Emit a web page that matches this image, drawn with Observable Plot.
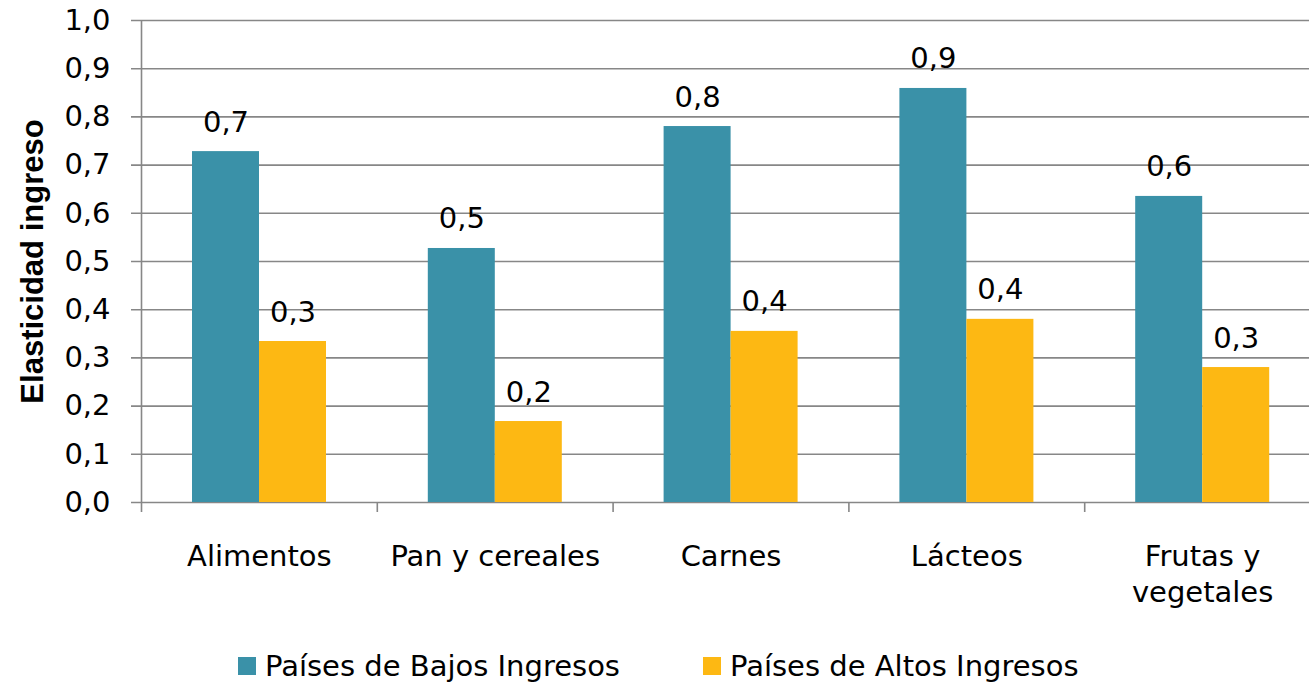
<!DOCTYPE html>
<html>
<head>
<meta charset="utf-8">
<script src="https://cdn.jsdelivr.net/npm/d3@7"></script>
<script src="https://cdn.jsdelivr.net/npm/@observablehq/plot@0.6"></script>
<style>
  html, body { margin: 0; padding: 0; background: #fff; }
  body { width: 1309px; height: 683px; overflow: hidden; font-family: "DejaVu Sans", sans-serif; }
  #legend { position: relative; height: 53px; display: flex; align-items: center; padding-top: 19px; box-sizing: border-box; padding-left: 238px; font-size: 29px; color: #000; white-space: nowrap; }
  #legend .item { display: flex; align-items: center; }
  #legend .sw { width: 18px; height: 18px; margin-right: 9px; }
</style>
</head>
<body>
<div id="chart"></div>
<div id="legend"></div>
<script>
const categories = ["Alimentos", "Pan y cereales", "Carnes", "Lácteos", "Frutas y\nvegetales"];
const series = ["Países de Bajos Ingresos", "Países de Altos Ingresos"];
const bajos = [0.728, 0.527, 0.780, 0.859, 0.635];
const altos = [0.334, 0.168, 0.355, 0.380, 0.280];
const colors = ["#3a91a8", "#fdb813"];
const yTicks = [0, 0.1, 0.2, 0.3, 0.4, 0.5, 0.6, 0.7, 0.8, 0.9, 1.0];
const yTitle = "Elasticidad ingreso";

const rows = categories.flatMap((c, i) => [
  {cat: c, serie: series[0], v: bajos[i]},
  {cat: c, serie: series[1], v: altos[i]}
]);
const comma1 = (v) => (Math.round(v * 10) / 10).toFixed(1).replace(".", ",");
const grid = "#878787";

const chart = Plot.plot({
  width: 1309,
  height: 630,
  marginTop: 20,
  marginBottom: 128,
  marginLeft: 141,
  marginRight: 0,
  style: {fontFamily: "DejaVu Sans", fontSize: "29px", color: "#000", background: "#fff"},
  x: {domain: categories, range: [141, 1320], padding: 0, round: false, label: null},
  y: {domain: [0, 1], label: null},
  color: {domain: series, range: colors},
  marks: [
    Plot.ruleY(yTicks, {y: d => d, stroke: grid, strokeWidth: 1.6, insetLeft: -10, strokeOpacity: 1}),
    Plot.barY(rows.filter(d => d.serie === series[0]), {x: "cat", y: "v", fill: "serie", insetLeft: 51, insetRight: 117.8}),
    Plot.barY(rows.filter(d => d.serie === series[1]), {x: "cat", y: "v", fill: "serie", insetLeft: 118, insetRight: 50.8}),
    Plot.text(rows.filter(d => d.serie === series[0]), {x: "cat", y: "v", text: d => comma1(d.v), dx: -33.4, dy: -20, lineAnchor: "bottom", fontSize: 29, fill: "#000"}),
    Plot.text(rows.filter(d => d.serie === series[1]), {x: "cat", y: "v", text: d => comma1(d.v), dx: 33.6, dy: -20, lineAnchor: "bottom", fontSize: 29, fill: "#000"}),
    // left axis line
    Plot.ruleX([categories[0]], {x: d => d, dx: -117.9, y1: 1, y2: 0, insetBottom: -10, stroke: grid, strokeWidth: 1.6}),
    // boundary ticks
    Plot.ruleX(categories.slice(1), {x: d => d, dx: -117.9, y1: 0, y2: 0, insetBottom: -10, stroke: grid, strokeWidth: 1.6}),
    Plot.axisY({ticks: yTicks, tickSize: 0, tickPadding: 31, tickFormat: d => d.toFixed(1).replace(".", ","), fontSize: 29, fill: "#000"}),
    Plot.axisX({tickSize: 0, tickPadding: 38, fontSize: 29, lineHeight: 1.24, fill: "#000"}),
    Plot.text([yTitle], {text: d => d, frameAnchor: "left", dx: -108, rotate: -90, textAnchor: "middle", fontSize: 31, fontWeight: "bold", fontFamily: "Liberation Sans", fill: "#000"})
  ]
});
document.getElementById("chart").appendChild(chart);

const legend = document.getElementById("legend");
series.forEach((s, i) => {
  const item = document.createElement("div");
  item.className = "item";
  if (i > 0) item.style.marginLeft = "83px";
  const sw = document.createElement("span");
  sw.className = "sw";
  sw.style.background = colors[i];
  const t = document.createElement("span");
  t.textContent = s;
  item.appendChild(sw);
  item.appendChild(t);
  legend.appendChild(item);
});
</script>
</body>
</html>
